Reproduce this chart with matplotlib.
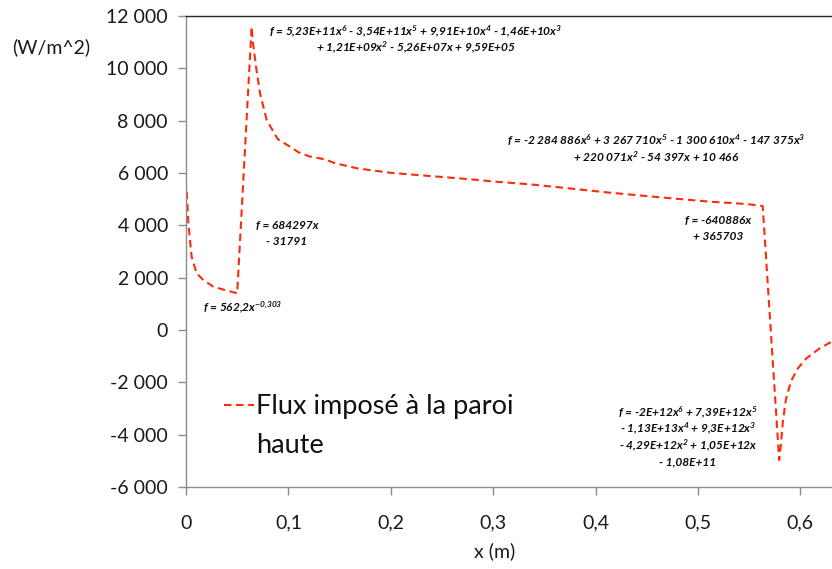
import matplotlib
matplotlib.use("Agg")
import matplotlib.pyplot as plt
from matplotlib.ticker import FixedLocator, FuncFormatter

plt.rcParams['font.family'] = ['Lato', 'DejaVu Sans']
plt.rcParams['mathtext.fontset'] = 'custom'
plt.rcParams['mathtext.rm'] = 'Lato:italic:bold'
plt.rcParams['mathtext.it'] = 'Lato:italic:bold'
plt.rcParams['mathtext.bf'] = 'Lato:italic:bold'

# ---- data ----
x_m = [0.0007, 0.0023, 0.0055, 0.0104, 0.017, 0.0267, 0.038, 0.0479, 0.0500,
       0.0641, 0.0651, 0.0684, 0.0723, 0.0788, 0.0895, 0.1016, 0.110, 0.120,
       0.128, 0.136, 0.145, 0.167, 0.199, 0.238, 0.271, 0.303, 0.336, 0.370,
       0.414, 0.463, 0.512, 0.5475, 0.5633, 0.5794, 0.5808, 0.5830, 0.5860,
       0.5910, 0.5980, 0.606, 0.619, 0.6306, 0.633]
flux = [5285, 4077, 2800, 2166, 1910, 1655, 1527, 1425, 1400,
        11590, 11083, 10063, 9045, 8025, 7300, 7005, 6790, 6640,
        6580, 6520, 6380, 6180, 6011, 5885, 5782, 5667, 5567, 5430,
        5247, 5071, 4903, 4815, 4740, -4970, -4500, -3500, -2650,
        -1950, -1450, -1083, -700, -448, -420]

series_label = "Flux imposé à la paroi"
series_label_cont = "haute"
y_ticks = [-6000, -4000, -2000, 0, 2000, 4000, 6000, 8000, 10000, 12000]
x_ticks = [0, 0.1, 0.2, 0.3, 0.4, 0.5, 0.6]
y_title = "(W/m^2)"
x_title = "x (m)"

eq_top = ["f = 5,23E+11x$^{6}$ - 3,54E+11x$^{5}$ + 9,91E+10x$^{4}$ - 1,46E+10x$^{3}$",
          "+ 1,21E+09x$^{2}$ - 5,26E+07x + 9,59E+05"]
eq_mid = ["f = -2 284 886x$^{6}$ + 3 267 710x$^{5}$ - 1 300 610x$^{4}$ - 147 375x$^{3}$",
          "+ 220 071x$^{2}$ - 54 397x + 10 466"]
eq_lin2 = ["f = -640886x", "+ 365703"]
eq_lin1 = ["f = 684297x", "- 31791"]
eq_pow = ["f = 562,2x$^{-0{,}303}$"]
eq_bot = ["f = -2E+12x$^{6}$ + 7,39E+12x$^{5}$", "- 1,13E+13x$^{4}$ + 9,3E+12x$^{3}$",
          "- 4,29E+12x$^{2}$ + 1,05E+12x", "- 1,08E+11"]

W, H = 832, 569
fig = plt.figure(figsize=(W / 100, H / 100), dpi=100)
ax = fig.add_axes([186 / W, 1 - 487 / H, (W - 186) / W, (487 - 16) / H])

line, = ax.plot(x_m, flux, color='#ff2a0a', lw=1.5, label=series_label)
line.set_dashes([3.6, 2.2])

ax.set_xlim(0, 0.631)
ax.set_ylim(-6000, 12000)
ax.xaxis.set_major_locator(FixedLocator(x_ticks))
ax.yaxis.set_major_locator(FixedLocator(y_ticks))
ax.xaxis.set_major_formatter(FuncFormatter(lambda v, p: ('%g' % round(v, 2)).replace('.', ',')))
ax.yaxis.set_major_formatter(FuncFormatter(lambda v, p: '{:,.0f}'.format(v).replace(',', ' ')))

gray = '#8c8c8c'
for s in ['left', 'bottom']:
    ax.spines[s].set_color(gray)
    ax.spines[s].set_linewidth(1.0)
ax.spines['right'].set_visible(False)
ax.spines['top'].set_color('#262626')
ax.spines['top'].set_linewidth(1.0)
ax.tick_params(axis='both', colors=gray, labelcolor='#1a1a1a', labelsize=14,
               length=6, width=1.0, direction='out')
ax.tick_params(axis='x', pad=14)
ax.tick_params(axis='y', pad=7)

def fp(x, y):
    return (x / W, 1 - y / H)

fig.text(*fp(12, 47), y_title, fontsize=14, ha='left', va='center', color='#1a1a1a')
fig.text(*fp(495, 551), x_title, fontsize=14, ha='center', va='center', color='#1a1a1a')

ann = dict(fontsize=8.6, fontweight='bold', fontstyle='italic', ha='center',
           va='baseline', color='#0d0d0d')

def eq_block(lines, cx, first_center_y, step=16.3):
    for i, txt in enumerate(lines):
        fig.text(*fp(cx, first_center_y + i * step + 4), txt, **ann)

eq_block(eq_top, 416, 31)
eq_block(eq_mid, 656, 141)
eq_block(eq_lin2, 718, 220, 16.5)
eq_block(eq_lin1, 287, 225, 16)
eq_block(eq_pow, 243, 307)
eq_block(eq_bot, 688, 412)

leg = ax.legend(loc='upper left', bbox_to_anchor=fp(224, 394),
                bbox_transform=fig.transFigure, frameon=False, fontsize=19.5,
                borderpad=0, borderaxespad=0, handlelength=1.1,
                handletextpad=0.1, labelspacing=0)
for t in leg.get_texts():
    t.set_color('#111111')

fig.canvas.draw()
bb = leg.get_texts()[0].get_window_extent()
fig.text(bb.x0 / W, (bb.y0 - 40 + 6) / H, series_label_cont, fontsize=19.5,
         ha='left', va='baseline', color='#111111')

fig.savefig('out.png', dpi=100)
